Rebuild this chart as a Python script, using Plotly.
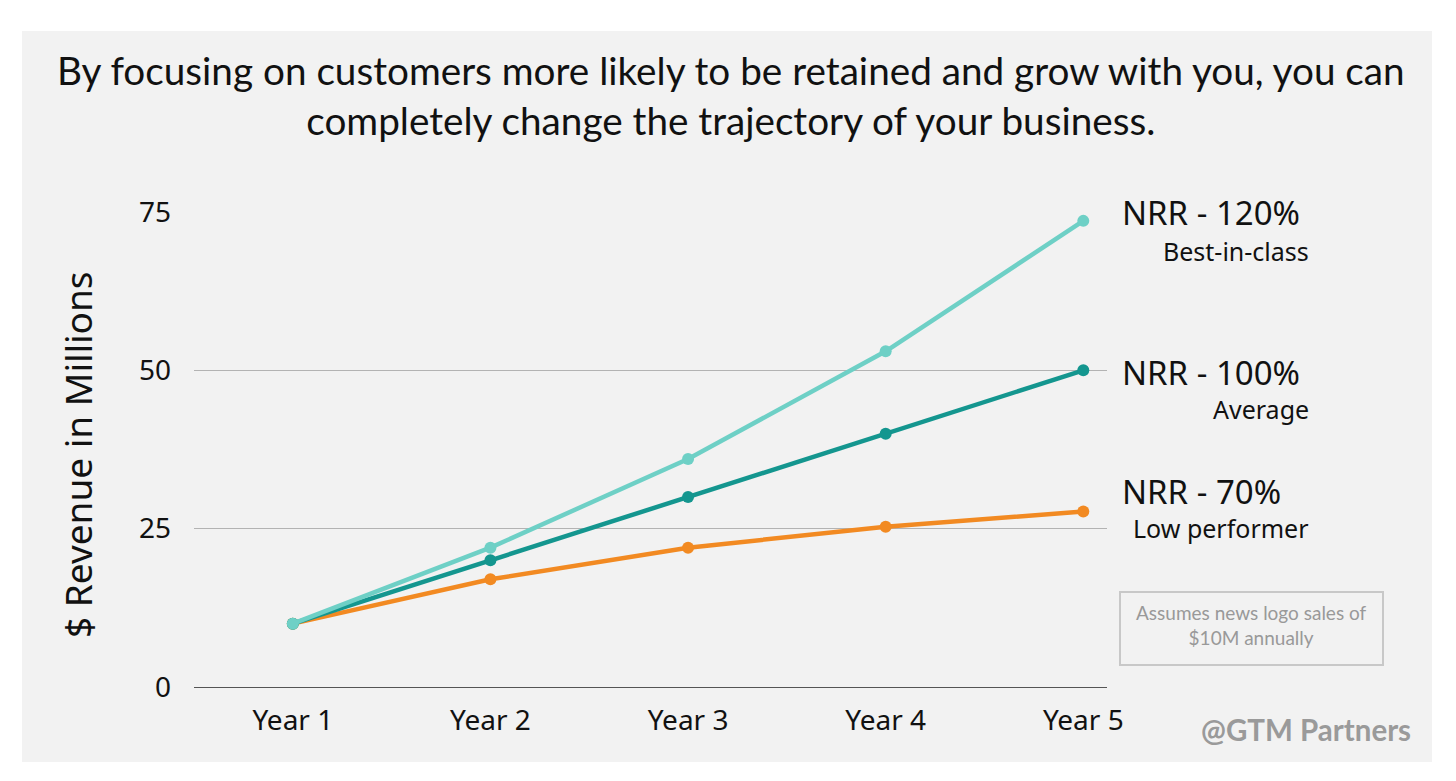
import plotly.graph_objects as go

years = ["Year 1", "Year 2", "Year 3", "Year 4", "Year 5"]
nrr120 = [10, 22, 36, 53, 73.6]
nrr100 = [10, 20, 30, 40, 50]
nrr70 = [10, 17, 22, 25.3, 27.7]
y_ticks = [0, 25, 50, 75]

OFF = 8  # browser body margin
W, H = 1456 - OFF, 781 - OFF
L, R, T, B = 194, 1107, 212, 687
pw, ph = R - L, B - T

def px(x):
    return (x - L) / pw

def py(y):
    return (B - y) / ph

C120 = "#6ed0c6"
C100 = "#14968f"
C70 = "#f28a22"
FONT = "Lato"
FONT2 = "Noto Sans"

fig = go.Figure()
for vals, col in [(nrr70, C70), (nrr100, C100), (nrr120, C120)]:
    fig.add_trace(go.Scatter(x=years, y=vals, mode="lines+markers",
                             line=dict(color=col, width=4.5),
                             marker=dict(color=col, size=12),
                             cliponaxis=False, showlegend=False, hoverinfo="skip"))

fig.update_layout(
    width=W, height=H,
    margin=dict(l=L - OFF, r=W - (R - OFF), t=T - OFF, b=H - (B - OFF), autoexpand=False),
    paper_bgcolor="white", plot_bgcolor="#f2f2f2",
    xaxis=dict(type="category", range=[-0.5, 4.12], showgrid=False, zeroline=False,
               showline=False, ticks="", tickfont=dict(family=FONT2, size=28, color="#111"),
               ticklabelstandoff=14, automargin=False),
    yaxis=dict(range=[0, 75], tickvals=y_ticks, showgrid=True, gridcolor="#b3b3b3", gridwidth=1.2,
               zeroline=True, zerolinecolor="#555", zerolinewidth=1.2, showline=False,
               ticks="", tickfont=dict(family=FONT2, size=28, color="#111"), ticklabelstandoff=22,
               automargin=False),
    shapes=[dict(type="rect", xref="paper", yref="paper", layer="below",
                 x0=px(22), x1=px(1432), y0=py(762), y1=py(31),
                 fillcolor="#f2f2f2", line=dict(width=0)),
            dict(type="rect", xref="paper", yref="paper",
                 x0=px(1120), x1=px(1383), y0=py(665), y1=py(592),
                 fillcolor="rgba(0,0,0,0)", line=dict(color="#c8c8c8", width=2))],
)

def A(**kw):
    d = dict(xref="paper", yref="paper", showarrow=False)
    d.update(kw)
    return d

ann = []
ann.append(A(text="By focusing on customers more likely to be retained and grow with you, you can<br>completely change the trajectory of your business.",
             x=px(731), y=py(95), xanchor="center", yanchor="middle", align="center",
             font=dict(family=FONT, size=38.7, color="#111")))
ann.append(A(text="$ Revenue in Millions", x=px(77), y=py(455), textangle=-90,
             xanchor="center", yanchor="middle",
             font=dict(family=FONT2, size=37, color="#111")))
for t, y in [("NRR - 120%", 212), ("NRR - 100%", 372), ("NRR - 70%", 491)]:
    ann.append(A(text=t, x=px(1120), y=py(y), xanchor="left", yanchor="middle",
                 font=dict(family=FONT2, size=33, color="#111")))
for t, y in [("Best-in-class", 251), ("Average", 409), ("Low performer", 528)]:
    ann.append(A(text=t, x=px(1311), y=py(y), xanchor="right", yanchor="middle",
                 font=dict(family=FONT2, size=25, color="#111")))
ann.append(A(text="Assumes news logo sales of<br>$10M annually", x=px(1251), y=py(625),
             xanchor="center", yanchor="middle", align="center",
             font=dict(family=FONT, size=19, color="#999")))
ann.append(A(text="<b>@GTM Partners</b>", x=px(1413), y=py(729), xanchor="right", yanchor="middle",
             font=dict(family=FONT, size=29.5, color="#9a9a9a")))
fig.update_layout(annotations=ann)

fig.write_html("out.html")
